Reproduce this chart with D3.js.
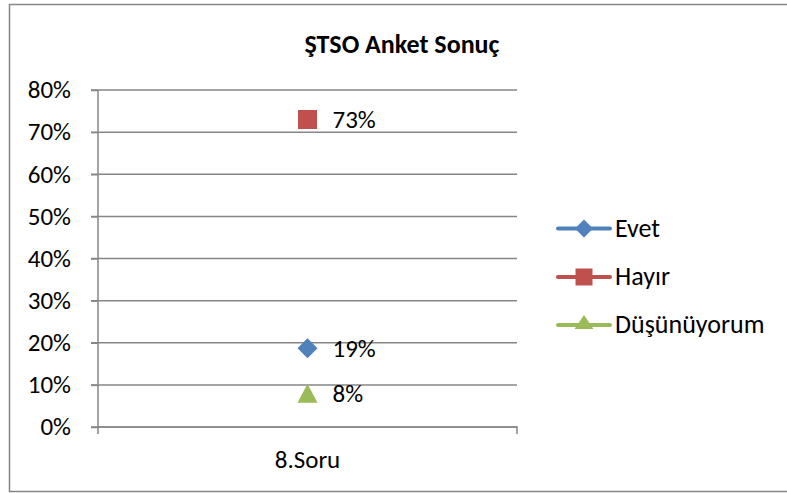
<!DOCTYPE html>
<html><head><meta charset="utf-8">
<script src="https://cdn.jsdelivr.net/npm/d3@7"></script>
<style>body{margin:0;background:#fff}svg{display:block}text{font-family:Carlito,"Open Sans","Liberation Sans",sans-serif}</style>
</head><body><svg id="c" width="787" height="493"></svg>
<script>
const categories = ["8.Soru"];
const seriesNames = ["Evet", "Hayır", "Düşünüyorum"];
const seriesValues = [[0.187], [0.73], [0.08]];
const seriesLabels = ["19%", "73%", "8%"];
const seriesColors = ["#4f81bd", "#c0504d", "#9bbb59"];
const yTicks = [0, 0.1, 0.2, 0.3, 0.4, 0.5, 0.6, 0.7, 0.8];
const title = "ŞTSO Anket Sonuç";

const FONT = 'Carlito,"Open Sans","Liberation Sans",sans-serif';
const triangle = (w, h) => ({ draw(ctx) { ctx.moveTo(0, -h / 2); ctx.lineTo(w / 2, h / 2); ctx.lineTo(-w / 2, h / 2); ctx.closePath(); } });
const plotSymbols = [[d3.symbolDiamond2, 255], [d3.symbolSquare2, 460], [triangle(20, 19), 1]];
const legendSymbols = [[d3.symbolDiamond2, 207], [d3.symbolSquare2, 368], [triangle(19, 14), 1]];

const svg = d3.select("#c");
svg.append("rect").attr("x", 9.5).attr("y", 4.5).attr("width", 800).attr("height", 487)
  .attr("fill", "#fff").attr("stroke", "#868686").attr("stroke-width", 1.5);

const x = d3.scaleBand().domain(categories).range([98, 517]);
const y = d3.scaleLinear().domain([0, 0.8]).range([427, 90]);

svg.append("text").attr("x", 402).attr("y", 53).attr("text-anchor", "middle")
  .attr("font-size", 26).attr("font-weight", "bold").text(title);

// gridlines
svg.append("g").selectAll("line").data(yTicks).join("line")
  .attr("x1", 91).attr("x2", 517).attr("y1", d => y(d)).attr("y2", d => y(d))
  .attr("stroke", "#868686").attr("stroke-width", 1.5);

const yAxis = d3.axisLeft(y).tickValues(yTicks).tickFormat(d3.format(".0%")).tickSize(7).tickPadding(20);
const gy = svg.append("g").attr("transform", "translate(98,0)").call(yAxis);
gy.select(".domain").attr("stroke", "#868686").attr("stroke-width", 1.5).attr("d", `M0,${y(0.8)}V${y(0)}`);
gy.selectAll(".tick line").attr("stroke", "#868686").attr("stroke-width", 1.5);
gy.selectAll("text").attr("font-size", 25).attr("fill", "#000").attr("dy", "0.31em").style("font-family", FONT);

const xAxis = d3.axisBottom(x).tickSize(0);
const gx = svg.append("g").attr("transform", "translate(0,427)").call(xAxis);
gx.select(".domain").attr("stroke", "#868686").attr("stroke-width", 1.5).attr("d", "M98,7V0H517V7");
gx.selectAll("text").attr("font-size", 25).attr("fill", "#000").attr("y", 41).attr("dy", 0).style("font-family", FONT);

// points
seriesNames.forEach((name, i) => {
  const g = svg.append("g");
  categories.forEach((c, j) => {
    const cx = x(c) + x.bandwidth() / 2, cy = y(seriesValues[i][j]);
    g.append("path").attr("d", d3.symbol().type(plotSymbols[i][0]).size(plotSymbols[i][1])())
      .attr("transform", `translate(${cx},${cy})`).attr("fill", seriesColors[i]);
    g.append("text").attr("x", cx + 25).attr("y", cy + 8.5).attr("font-size", 25).text(seriesLabels[i]);
  });
});

// legend
const legY = [228.5, 277, 325];
seriesNames.forEach((name, i) => {
  const g = svg.append("g").attr("transform", `translate(0,${legY[i]})`);
  g.append("line").attr("x1", 558).attr("x2", 610).attr("y1", 0).attr("y2", 0)
    .attr("stroke", seriesColors[i]).attr("stroke-width", 4).attr("stroke-linecap", "round");
  g.append("path").attr("d", d3.symbol().type(legendSymbols[i][0]).size(legendSymbols[i][1])())
    .attr("transform", `translate(584,${i === 2 ? -3 : 0})`).attr("fill", seriesColors[i]);
  g.append("text").attr("x", 615).attr("y", 8).attr("font-size", 26).text(name);
});
</script></body></html>
